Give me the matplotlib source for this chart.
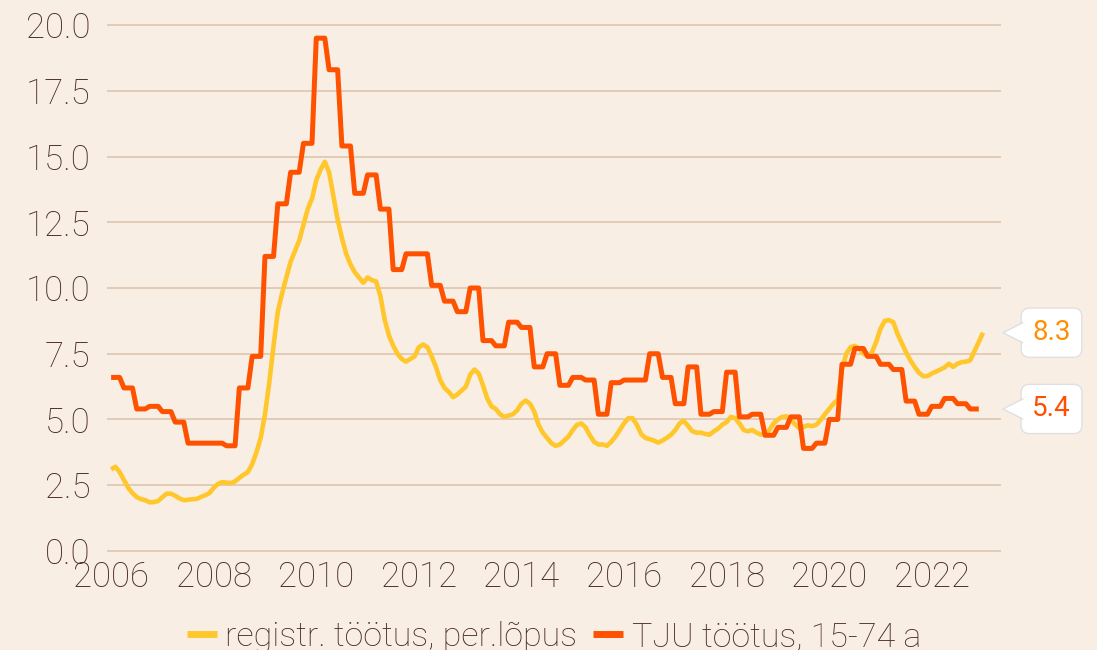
#import
import matplotlib.pyplot as plt
import numpy as np
from matplotlib.patches import Polygon
from matplotlib.transforms import blended_transform_factory

#data
start_year = 2006

# registreeritud töötus, monthly, Jan 2006 - Jan 2023
reg = [3.1, 3.2, 3.0, 2.7, 2.4, 2.2, 2.05, 1.97, 1.93, 1.85, 1.86, 1.9,
       2.05, 2.18, 2.18, 2.1, 2.0, 1.93, 1.95, 1.97, 1.98, 2.05, 2.12, 2.2,
       2.4, 2.55, 2.62, 2.6, 2.58, 2.65, 2.78, 2.9, 3.0, 3.3, 3.75, 4.3,
       5.2, 6.4, 7.8, 9.1, 9.8, 10.4, 11.0, 11.4, 11.8, 12.4, 13.0, 13.4,
       14.1, 14.5, 14.8, 14.4, 13.5, 12.6, 11.9, 11.3, 10.9, 10.6, 10.4, 10.2,
       10.4, 10.3, 10.25, 9.7, 8.8, 8.2, 7.8, 7.5, 7.3, 7.2, 7.3, 7.4,
       7.75, 7.85, 7.75, 7.4, 7.0, 6.5, 6.2, 6.05, 5.85, 5.95, 6.1, 6.25,
       6.7, 6.9, 6.75, 6.3, 5.8, 5.5, 5.4, 5.2, 5.1, 5.15, 5.2, 5.35,
       5.6, 5.72, 5.6, 5.3, 4.8, 4.5, 4.3, 4.1, 4.0, 4.05, 4.2, 4.35,
       4.6, 4.8, 4.85, 4.7, 4.4, 4.15, 4.05, 4.05, 4.0, 4.15, 4.35, 4.6,
       4.85, 5.05, 5.05, 4.8, 4.45, 4.3, 4.25, 4.2, 4.12, 4.2, 4.3, 4.42,
       4.6, 4.85, 4.95, 4.75, 4.55, 4.5, 4.5, 4.45, 4.42, 4.55, 4.65, 4.8,
       4.9, 5.1, 5.05, 4.85, 4.6, 4.55, 4.6, 4.5, 4.42, 4.45, 4.6, 4.85,
       5.0, 5.1, 5.12, 5.0, 4.82, 4.67, 4.72, 4.78, 4.75, 4.8, 4.98, 5.2,
       5.4, 5.6, 5.75, 6.9, 7.5, 7.75, 7.8, 7.7, 7.5, 7.4, 7.55, 7.95,
       8.45, 8.75, 8.78, 8.7, 8.25, 7.9, 7.55, 7.25, 7.0, 6.78, 6.65, 6.65,
       6.75, 6.82, 6.9, 6.98, 7.12, 7.0, 7.12, 7.18, 7.2, 7.25, 7.6, 7.95,
       8.3]

# TJU töötus 15-74, quarterly, 2006Q1 - 2022Q4
tju_q = [6.6, 6.2, 5.4, 5.5,
         5.3, 4.9, 4.1, 4.1,
         4.1, 4.0, 6.2, 7.4,
         11.2, 13.2, 14.4, 15.5,
         19.5, 18.3, 15.4, 13.6,
         14.3, 13.0, 10.7, 11.3,
         11.3, 10.1, 9.5, 9.1,
         10.0, 8.0, 7.8, 8.7,
         8.5, 7.0, 7.5, 6.3,
         6.6, 6.5, 5.2, 6.4,
         6.5, 6.5, 7.5, 6.6,
         5.6, 7.0, 5.2, 5.3,
         6.8, 5.1, 5.2, 4.4,
         4.7, 5.1, 3.9, 4.1,
         5.0, 7.1, 7.7, 7.4,
         7.1, 6.9, 5.7, 5.2,
         5.5, 5.8, 5.6, 5.4]

labels = ["registr. töötus, per.lõpus", "TJU töötus, 15-74 a"]
yticks = [0, 2.5, 5, 7.5, 10, 12.5, 15, 17.5, 20]
xticks = [2006, 2008, 2010, 2012, 2014, 2016, 2018, 2020, 2022]

#colors
bg = "#f9eee4"
yellow = "#ffc72c"
orange = "#ff5200"
txt = "#4a2b27"

x_reg = start_year + np.arange(len(reg)) / 12
tju = np.repeat(tju_q, 3)  # quarter value held for its three months
x_tju = start_year + np.arange(len(tju)) / 12

plt.rcParams['font.family'] = ['Roboto', 'DejaVu Sans']
plt.rcParams['font.weight'] = 'light'

#config chart
fig = plt.figure(figsize=(10.97, 6.5), dpi=100, facecolor=bg)
ax = fig.add_axes([107 / 1097, 1 - 552.3 / 650, 894 / 1097, 528.6 / 650])
ax.set_facecolor(bg)

ax.plot(x_reg, reg, color=yellow, lw=3.3, label=labels[0],
        solid_joinstyle="round", solid_capstyle="butt", zorder=3)
ax.plot(x_tju, tju, color=orange, lw=3.6, label=labels[1],
        solid_joinstyle="round", solid_capstyle="butt", zorder=4)

ax.set_xlim(2005.92, 2023.35)
ax.set_ylim(-0.05, 20.05)
ax.set_yticks(yticks)
ax.set_yticklabels([f"{v:.1f}" for v in yticks])
ax.set_xticks(xticks)
ax.grid(axis="y", color="#dcc2ab", lw=1.1)
ax.grid(axis="x", visible=False)
ax.set_axisbelow(True)
for s in ax.spines.values():
    s.set_visible(False)
ax.tick_params(axis="both", length=0, labelsize=25, colors=txt)
ax.tick_params(axis="y", pad=12)
ax.tick_params(axis="x", pad=6)

#legend
leg = ax.legend(loc="center", bbox_to_anchor=(0.5, -0.16), ncol=2,
                frameon=False, fontsize=24.5, handlelength=0.88,
                handletextpad=0.25, columnspacing=0.47, labelcolor=txt)
for h in leg.legend_handles:
    h.set_linewidth(5)

#end labels
tr = blended_transform_factory(ax.transAxes, ax.transData)
for val, col in [(reg[-1], "#ff8f00"), (tju[-1], "#ff4f00")]:
    ax.text(1.0565, val, f"{val:.1f}", transform=tr, ha="center", va="center",
            fontsize=20, fontweight="normal", color=col, clip_on=False, zorder=5,
            bbox=dict(boxstyle="round,pad=0.4,rounding_size=0.3",
                      fc="white", ec="#e0e0e0", lw=1))
    tip = 1.0022
    base = 1.0262
    half = 0.38
    ax.add_patch(Polygon([[tip, val], [base, val + half], [base, val - half]],
                         closed=True, transform=tr, fc="white", ec="none",
                         clip_on=False, zorder=6))
    ax.plot([base - 0.002, tip, base - 0.002], [val + half, val, val - half],
            transform=tr, color="#e0e0e0", lw=1, clip_on=False, zorder=7)

#save chart
fig.savefig("out.png", dpi=100, facecolor=bg)
